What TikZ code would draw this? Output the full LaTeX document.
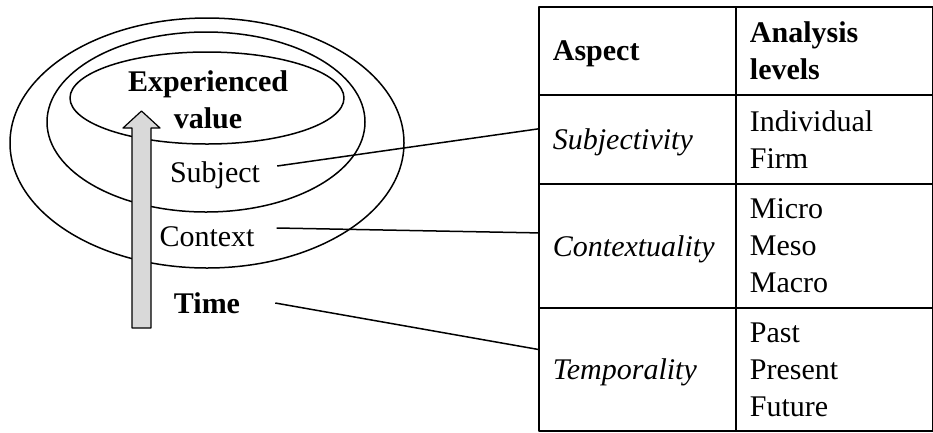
\documentclass[tikz,border=0pt]{standalone}
\usepackage{fontspec}
\setmainfont{Liberation Serif}
\begin{document}
\begin{tikzpicture}[x=1pt,y=-1pt,line join=round,
	every node/.style={font=\fontsize{30}{37}\selectfont,inner sep=0pt},
	cell/.style={draw,line width=1.8pt,anchor=north west,inner xsep=14pt,text width=169pt,minimum width=197pt,align=left},
	link/.style={line width=1.5pt}]
	\useasboundingbox (0,0) rectangle (933,432);
	% ellipses
	\draw[line width=1.5pt] (207,143) ellipse [x radius=197pt, y radius=125pt];
	\draw[line width=1.5pt] (206,122) ellipse [x radius=159pt, y radius=90pt];
	\draw[line width=1.5pt] (207,98) ellipse [x radius=137pt, y radius=46pt];
	% time arrow
	\draw[line width=1.2pt,fill=gray!30] (132,328)--(132,128)--(123,128)--(141.5,111)--(160,128)--(151,128)--(151,328)--cycle;
	\node[font=\fontsize{30}{37}\selectfont\bfseries,align=center] (val) at (208,100) {Experienced\\value};
	\node (subj) at (215,175) {Subject};
	\node (ctx) at (207,237) {Context};
	\node[font=\fontsize{30}{37}\selectfont\bfseries] (time) at (207,303) {Time};
	% table
	\node[cell,minimum height=88pt,text depth=0pt,font=\fontsize{30}{37}\selectfont\bfseries] (hasp) at (538,6) {Aspect};
	\node[cell,minimum height=88pt,font=\fontsize{30}{37}\selectfont\bfseries] (hlev) at (735,6) {Analysis\\levels};
	\node[cell,minimum height=89pt,text depth=0pt,font=\fontsize{30}{37}\selectfont\itshape] (asub) at (538,94) {Subjectivity};
	\node[cell,minimum height=89pt] (lsub) at (735,94) {Individual\\Firm};
	\node[cell,minimum height=124pt,text depth=0pt,font=\fontsize{30}{37}\selectfont\itshape] (actx) at (538,183) {Contextuality};
	\node[cell,minimum height=124pt] (lctx) at (735,183) {Micro\\Meso\\Macro};
	\node[cell,minimum height=123pt,text depth=0pt,font=\fontsize{30}{37}\selectfont\itshape] (atim) at (538,307) {Temporality};
	\node[cell,minimum height=123pt] (ltim) at (735,307) {Past\\Present\\Future};
	% links
	\draw[link] ([xshift=17pt,yshift=9pt]subj.east) -- ([yshift=10.5pt]asub.west);
	\draw[link] ([xshift=22pt,yshift=9pt]ctx.east) -- ([yshift=13pt]actx.west);
	\draw[link] ([xshift=35pt]time.east) -- ([yshift=20pt]atim.west);
\end{tikzpicture}
\end{document}
